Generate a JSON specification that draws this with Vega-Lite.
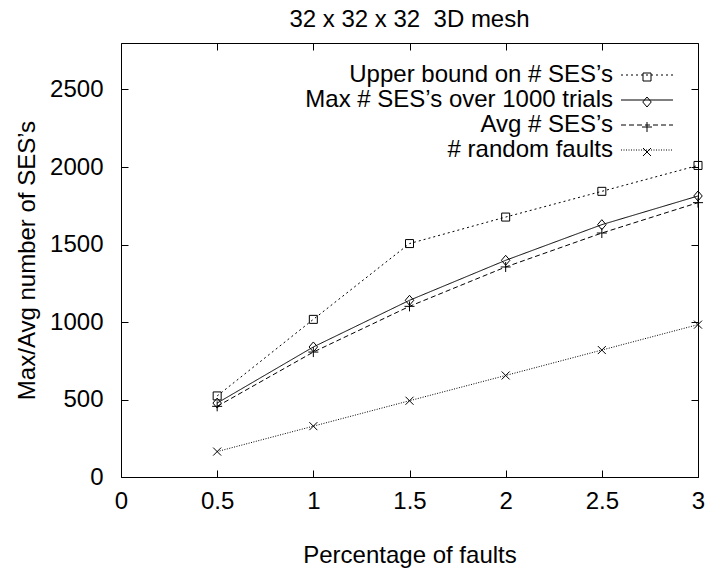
{
  "$schema": "https://vega.github.io/schema/vega-lite/v6.json",
  "width": 577,
  "height": 434,
  "autosize": {"type": "none"},
  "padding": {"left": 121, "top": 43, "right": 10, "bottom": 96},
  "background": "white",
  "title": {
    "text": "32 x 32 x 32\u00a0 3D mesh",
    "font": "Liberation Sans",
    "fontSize": 24,
    "fontWeight": "normal",
    "color": "black",
    "anchor": "middle",
    "frame": "group",
    "baseline": "alphabetic",
    "offset": -8
  },
  "data": {
    "values": [
      {"pct": 0.5, "count": 523, "series": "Upper bound on # SES’s"},
      {"pct": 1.0, "count": 1017, "series": "Upper bound on # SES’s"},
      {"pct": 1.5, "count": 1506, "series": "Upper bound on # SES’s"},
      {"pct": 2.0, "count": 1677, "series": "Upper bound on # SES’s"},
      {"pct": 2.5, "count": 1843, "series": "Upper bound on # SES’s"},
      {"pct": 3.0, "count": 2010, "series": "Upper bound on # SES’s"},
      {"pct": 0.5, "count": 477, "series": "Max # SES’s over 1000 trials"},
      {"pct": 1.0, "count": 839, "series": "Max # SES’s over 1000 trials"},
      {"pct": 1.5, "count": 1140, "series": "Max # SES’s over 1000 trials"},
      {"pct": 2.0, "count": 1398, "series": "Max # SES’s over 1000 trials"},
      {"pct": 2.5, "count": 1628, "series": "Max # SES’s over 1000 trials"},
      {"pct": 3.0, "count": 1813, "series": "Max # SES’s over 1000 trials"},
      {"pct": 0.5, "count": 456, "series": "Avg # SES’s"},
      {"pct": 1.0, "count": 806, "series": "Avg # SES’s"},
      {"pct": 1.5, "count": 1101, "series": "Avg # SES’s"},
      {"pct": 2.0, "count": 1355, "series": "Avg # SES’s"},
      {"pct": 2.5, "count": 1574, "series": "Avg # SES’s"},
      {"pct": 3.0, "count": 1770, "series": "Avg # SES’s"},
      {"pct": 0.5, "count": 164, "series": "# random faults"},
      {"pct": 1.0, "count": 328, "series": "# random faults"},
      {"pct": 1.5, "count": 492, "series": "# random faults"},
      {"pct": 2.0, "count": 655, "series": "# random faults"},
      {"pct": 2.5, "count": 819, "series": "# random faults"},
      {"pct": 3.0, "count": 983, "series": "# random faults"}
    ]
  },
  "layer": [
    {
      "mark": {"type": "line", "strokeWidth": 1, "color": "black"},
      "encoding": {
        "x": {
          "field": "pct", "type": "quantitative",
          "scale": {"domain": [0, 3], "nice": false, "zero": false},
          "axis": {
            "orient": "bottom",
            "values": [0, 0.5, 1, 1.5, 2, 2.5, 3],
            "format": "~g",
            "labelFlush": false,
            "labelOverlap": false,
            "labelPadding": 19,
            "title": "Percentage of faults",
            "titlePadding": 30
          }
        },
        "y": {
          "field": "count", "type": "quantitative",
          "scale": {"domain": [0, 2800], "nice": false},
          "axis": {
            "orient": "left",
            "values": [0, 500, 1000, 1500, 2000, 2500],
            "format": "d",
            "labelPadding": 25,
            "labelOverlap": false,
            "title": "Max/Avg number of SES’s",
            "titlePadding": 10
          }
        },
        "strokeDash": {
          "field": "series", "type": "nominal",
          "scale": {
            "domain": ["Upper bound on # SES’s", "Max # SES’s over 1000 trials", "Avg # SES’s", "# random faults"],
            "range": [[2, 3], [1, 0], [5, 3], [1, 1.5]]
          },
          "legend": {
            "title": null,
            "orient": "none",
            "legendX": 514,
            "legendY": 20,
            "symbolType": "M-2.6,0H2.6",
            "symbolSize": 400,
            "symbolStrokeWidth": 1,
            "symbolStrokeColor": "black",
            "labelAlign": "right",
            "labelBaseline": "middle",
            "labelOffset": -46,
            "labelFont": "Liberation Sans",
            "labelFontSize": 24,
            "labelColor": "black",
            "labelLimit": 600,
            "rowPadding": 1,
            "padding": 0
          }
        }
      }
    },
    {
      "mark": {"type": "point", "filled": false, "color": "black", "strokeWidth": 1, "size": 100, "opacity": 1},
      "encoding": {
        "x": {
          "field": "pct", "type": "quantitative",
          "axis": {"orient": "top", "values": [0, 0.5, 1, 1.5, 2, 2.5, 3], "labels": false, "title": null}
        },
        "y": {
          "field": "count", "type": "quantitative",
          "axis": {"orient": "right", "values": [0, 500, 1000, 1500, 2000, 2500], "labels": false, "title": null}
        },
        "shape": {
          "field": "series", "type": "nominal",
          "sort": ["Upper bound on # SES’s", "Max # SES’s over 1000 trials", "Avg # SES’s", "# random faults"],
          "scale": {
            "range": [
              "M-0.8,-0.8H0.8V0.8H-0.8Z",
              "M0,-1L0.85,0L0,1L-0.85,0Z",
              "M-1,0H1M0,-1V1",
              "M-0.8,-0.8L0.8,0.8M0.8,-0.8L-0.8,0.8"
            ]
          },
          "legend": {
            "title": null,
            "orient": "none",
            "legendX": 514,
            "legendY": 22,
            "labelExpr": "' '",
            "labelFontSize": 24,
            "labelOpacity": 0,
            "labelOffset": 0,
            "symbolSize": 100,
            "symbolStrokeColor": "black",
            "symbolStrokeWidth": 1,
            "symbolFillColor": "white",
            "rowPadding": 1,
            "padding": 0
          }
        }
      }
    }
  ],
  "resolve": {"axis": {"x": "independent", "y": "independent"}},
  "config": {
    "view": {"stroke": "black", "strokeWidth": 1},
    "axis": {
      "domain": false,
      "grid": false,
      "ticks": true,
      "tickColor": "black",
      "tickSize": -7,
      "tickWidth": 1,
      "labelFont": "Liberation Sans",
      "labelFontSize": 24,
      "labelColor": "black",
      "titleFont": "Liberation Sans",
      "titleFontSize": 24,
      "titleFontWeight": "normal",
      "titleColor": "black"
    }
  }
}
